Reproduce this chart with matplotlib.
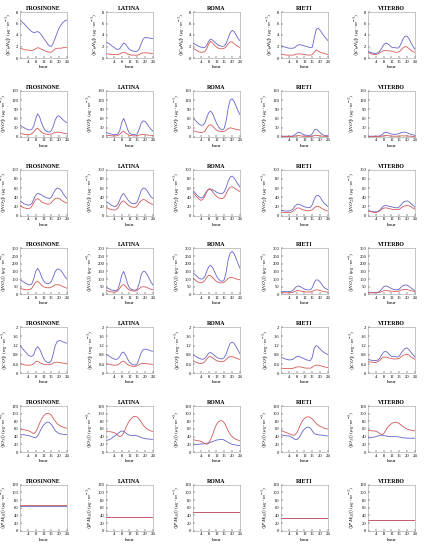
import numpy as np
import matplotlib
matplotlib.use("Agg")
import matplotlib.pyplot as plt

plt.rcParams['font.family'] = ['Liberation Serif', 'DejaVu Serif']
plt.rcParams['mathtext.fontset'] = 'stix'

hours = np.arange(25)
cities = ['FROSINONE', 'LATINA', 'ROMA', 'RIETI', 'VITERBO']

# C6H6 (blue / red)
c6h6_blue = [
    [6.6,6.3,6.0,5.6,5.2,4.9,4.6,4.4,4.5,4.6,4.4,4.0,3.5,3.0,2.5,2.1,2.0,2.6,3.5,4.4,5.2,5.8,6.2,6.5,6.6],
    [2.8,2.6,2.4,2.1,1.9,1.6,1.5,1.6,2.1,2.6,2.4,1.9,1.5,1.3,1.2,1.1,1.2,1.6,2.5,3.3,3.6,3.5,3.5,3.4,3.4],
    [2.6,2.4,2.2,2.0,1.9,1.8,1.8,2.2,2.9,3.3,3.1,2.8,2.5,2.2,2.1,2.0,2.1,2.6,3.5,4.4,4.8,4.6,4.0,3.4,3.0],
    [2.2,2.0,1.9,1.8,1.7,1.7,1.7,1.8,2.1,2.3,2.3,2.2,2.1,2.0,1.9,1.8,1.9,3.5,5.0,5.2,4.8,4.3,3.8,3.4,3.0],
    [1.2,1.0,0.9,0.8,0.8,0.9,1.2,1.7,2.3,2.6,2.5,2.2,1.9,1.8,1.8,1.7,1.9,2.6,3.4,3.8,3.8,3.3,2.6,2.0,1.5],
]
c6h6_red = [
    [1.7,1.6,1.5,1.4,1.4,1.3,1.3,1.4,1.6,1.8,1.7,1.5,1.4,1.2,1.1,1.0,1.0,1.3,1.6,1.7,1.7,1.7,1.8,1.8,1.8],
    [0.7,0.7,0.65,0.6,0.6,0.6,0.6,0.7,0.9,1.0,0.9,0.7,0.6,0.5,0.5,0.5,0.5,0.6,0.8,0.9,0.9,0.9,0.85,0.8,0.8],
    [1.7,1.5,1.3,1.1,1.0,1.0,1.1,1.6,2.4,2.9,2.6,2.2,1.9,1.7,1.6,1.6,1.7,2.0,2.5,2.8,2.8,2.5,2.2,2.0,1.8],
    [0.6,0.6,0.55,0.5,0.5,0.5,0.5,0.55,0.7,0.7,0.7,0.65,0.6,0.55,0.5,0.5,0.6,1.0,1.4,1.2,1.0,0.9,0.8,0.7,0.6],
    [1.0,0.8,0.7,0.6,0.6,0.7,0.9,1.1,1.3,1.3,1.3,1.2,1.2,1.1,1.0,1.0,1.1,1.4,1.8,2.0,1.9,1.6,1.3,1.1,1.0],
]

# NO
no_blue = [
    [38,34,30,26,23,22,24,35,58,75,65,45,30,20,16,15,20,35,55,67,68,62,55,50,45],
    [15,12,10,8,7,7,9,20,45,60,45,25,12,8,7,7,10,25,45,52,50,42,32,24,18],
    [60,55,48,42,38,38,45,62,78,84,76,60,45,33,25,22,28,55,95,120,124,115,100,85,72],
    [3,2,2,2,2,2,3,6,12,15,13,9,6,5,4,5,10,22,25,20,13,8,5,4,3],
    [3,2,2,2,2,2,3,6,12,15,14,11,9,8,8,9,11,14,15,15,13,10,8,6,5],
]
no_red = [
    [12,10,8,7,7,8,10,16,25,28,22,15,11,9,8,8,9,12,14,15,15,14,12,11,10],
    [5,4,4,3,3,3,4,8,15,18,13,8,5,4,3,3,4,6,7,7,7,6,5,5,4],
    [20,18,16,15,14,15,18,28,37,40,35,28,22,19,17,17,18,22,27,29,28,26,24,23,22],
    [1,1,1,1,1,1,1,2,3,4,3,2,2,1,1,1,2,4,5,4,3,2,2,1,1],
    [1,1,1,1,1,1,1,2,3,4,4,3,2,2,2,2,2,3,3,3,3,2,2,1,1],
]

# NO2
no2_blue = [
    [32,29,26,24,23,23,26,35,44,48,47,45,42,40,38,37,40,48,56,60,59,55,48,42,37],
    [30,28,25,22,20,20,24,34,44,48,42,35,30,27,26,26,30,42,55,60,59,54,47,41,37],
    [55,50,45,41,38,40,46,53,57,58,56,54,51,49,48,48,52,62,75,84,86,82,75,68,62],
    [12,11,10,10,10,11,14,20,24,25,23,21,19,18,17,18,24,36,43,44,40,33,27,23,20],
    [12,10,9,8,8,9,12,17,21,22,21,20,19,18,17,17,19,24,29,31,32,30,26,22,18],
]
no2_red = [
    [22,19,17,16,15,16,20,28,35,37,34,30,28,26,25,25,28,33,37,38,37,34,31,29,27],
    [18,16,14,13,12,13,16,24,30,32,28,24,21,19,18,18,21,28,33,35,34,31,28,26,24],
    [50,45,40,36,33,35,42,52,58,57,52,46,42,39,37,37,40,48,57,62,63,60,57,55,52],
    [8,7,7,7,7,7,9,13,16,17,15,13,12,11,10,11,13,17,20,20,18,15,13,11,10],
    [10,9,8,7,7,8,10,14,16,17,16,15,14,13,13,13,14,17,20,21,22,21,19,16,14],
]

# NOx
nox_blue = [
    [95,88,80,72,65,62,68,100,150,170,150,115,88,75,70,72,85,115,150,165,165,155,135,115,100],
    [45,40,34,28,25,25,32,70,125,150,115,70,42,32,28,28,35,75,130,150,148,130,105,80,60],
    [140,130,118,105,100,102,115,150,180,190,175,148,120,100,88,85,98,150,230,270,280,265,235,200,170],
    [20,19,18,18,18,19,25,40,52,55,50,42,35,31,29,30,45,78,95,93,80,62,45,36,30],
    [15,13,12,12,12,14,20,35,50,55,52,45,38,33,30,30,35,48,58,62,60,52,42,32,25],
]
nox_red = [
    [40,36,33,30,30,32,40,60,80,85,75,60,50,45,43,43,47,55,62,63,62,57,50,45,40],
    [25,22,18,16,15,16,22,40,58,65,52,38,28,24,22,22,26,38,48,50,49,45,38,33,30],
    [105,95,85,78,75,78,90,112,125,122,110,96,85,78,75,75,80,92,105,110,110,106,101,98,95],
    [12,11,10,10,10,11,13,19,24,25,22,19,17,16,15,16,20,27,30,29,25,21,18,16,15],
    [12,11,10,10,10,11,13,19,24,25,24,22,21,20,20,20,23,28,32,33,32,28,24,21,18],
]

# CO
co_blue = [
    [1.2,1.1,1.0,0.9,0.8,0.75,0.73,0.8,1.05,1.15,1.05,0.85,0.65,0.52,0.47,0.45,0.55,0.85,1.2,1.38,1.42,1.4,1.36,1.33,1.3],
    [0.82,0.78,0.72,0.66,0.62,0.6,0.62,0.72,0.88,0.92,0.8,0.62,0.48,0.4,0.37,0.35,0.42,0.65,0.9,1.02,1.05,1.03,1.0,0.97,0.95],
    [0.8,0.75,0.7,0.65,0.62,0.6,0.65,0.75,0.87,0.9,0.85,0.77,0.7,0.65,0.63,0.62,0.68,0.85,1.1,1.3,1.35,1.3,1.15,1.0,0.85],
    [0.7,0.66,0.62,0.6,0.58,0.58,0.6,0.66,0.72,0.74,0.7,0.66,0.62,0.58,0.56,0.55,0.7,1.1,1.2,1.15,1.05,0.97,0.9,0.85,0.8],
    [0.6,0.58,0.56,0.55,0.55,0.57,0.65,0.8,0.92,0.95,0.9,0.8,0.73,0.72,0.72,0.7,0.75,0.88,1.0,1.08,1.1,1.02,0.9,0.8,0.7],
]
co_red = [
    [0.42,0.4,0.37,0.35,0.35,0.35,0.36,0.42,0.5,0.52,0.47,0.42,0.39,0.37,0.37,0.37,0.39,0.44,0.47,0.48,0.47,0.45,0.44,0.43,0.42],
    [0.42,0.4,0.38,0.36,0.35,0.35,0.36,0.42,0.5,0.52,0.46,0.38,0.33,0.31,0.3,0.3,0.33,0.38,0.42,0.43,0.43,0.41,0.4,0.39,0.38],
    [0.55,0.5,0.46,0.43,0.42,0.44,0.5,0.62,0.71,0.72,0.67,0.6,0.55,0.52,0.5,0.5,0.53,0.6,0.68,0.72,0.72,0.69,0.65,0.62,0.6],
    [0.22,0.21,0.2,0.2,0.2,0.2,0.21,0.24,0.27,0.28,0.27,0.25,0.23,0.22,0.22,0.22,0.26,0.32,0.35,0.35,0.33,0.3,0.28,0.26,0.25],
    [0.5,0.49,0.48,0.47,0.47,0.5,0.56,0.65,0.7,0.7,0.68,0.66,0.64,0.62,0.62,0.62,0.65,0.72,0.78,0.81,0.82,0.78,0.7,0.65,0.6],
]

# O3
o3_blue = [
    [45,45,45,44,43,42,40,38,37,42,52,62,70,75,78,77,72,64,56,51,48,47,46,46,45],
    [30,31,33,36,40,44,48,52,55,54,50,46,44,43,43,43,42,40,38,36,35,34,34,33,33],
    [18,19,20,20,21,21,22,23,24,25,27,29,31,32,33,33,31,28,25,22,20,19,18,17,17],
    [45,44,43,42,42,40,37,33,32,36,44,53,60,64,65,62,55,48,46,45,44,44,43,42,42],
    [37,37,38,39,40,42,43,44,43,42,41,40,40,40,40,40,39,38,37,37,36,36,36,36,36],
]
o3_red = [
    [60,59,58,57,56,54,51,48,52,62,75,86,94,99,101,100,96,88,80,74,70,67,65,63,62],
    [53,53,53,52,51,48,44,40,42,50,62,73,82,88,92,93,91,86,78,70,64,60,57,55,53],
    [32,31,30,29,28,25,22,20,23,32,45,60,72,79,82,81,76,66,55,46,40,36,33,31,30],
    [56,54,52,50,48,46,44,44,50,60,72,82,88,91,92,90,86,80,74,70,67,65,62,61,60],
    [56,56,55,55,54,52,48,45,48,56,64,70,74,77,78,77,74,70,66,62,60,58,57,56,55],
]

# PM10 (flat daily levels)
pm10_blue = [65, 36, 48, 33, 28]
pm10_red = [66, 37, 49, 34, 29]

ug = r'$(\mu g\cdot m^{-3})$'
rows = [
    (c6h6_blue, c6h6_red, r'$\langle[C_6H_6]\rangle$ ' + ug, 8, [0, 2, 4, 6, 8]),
    (no_blue, no_red, r'$\langle[NO]\rangle$ ' + ug, 150, [0, 30, 60, 90, 120, 150]),
    (no2_blue, no2_red, r'$\langle[NO_2]\rangle$ ' + ug, 100, [0, 20, 40, 60, 80, 100]),
    (nox_blue, nox_red, r'$\langle[NO_x]\rangle$ ' + ug, 300, [0, 50, 100, 150, 200, 250, 300]),
    (co_blue, co_red, r'$\langle[CO]\rangle$ $(mg\cdot m^{-3})$', 2, [0, 0.4, 0.8, 1.2, 1.6, 2]),
    (o3_blue, o3_red, r'$\langle[O_3]\rangle$ ' + ug, 120, [0, 20, 40, 60, 80, 100, 120]),
    (None, None, r'$\langle[PM_{10}]\rangle$ ' + ug, 120, [0, 20, 40, 60, 80, 100, 120]),
]

W, H = 427, 550
fig = plt.figure(figsize=(W / 100, H / 100), dpi=100)

lefts = [20, 106, 193, 281, 368]
ax_w, ax_h = 47, 46
blue = '#6464cc'
red = '#d45858'

for r, (bl, rd, ylab, ymax, yt) in enumerate(rows):
    top = 12 + 78.8 * r
    for c, city in enumerate(cities):
        ax = fig.add_axes([lefts[c] / W, 1 - (top + ax_h) / H, ax_w / W, ax_h / H])
        if bl is None:
            yb = np.full(25, pm10_blue[c])
            yr = np.full(25, pm10_red[c])
        else:
            yb = bl[c]
            yr = rd[c]
        ax.plot(hours, yb, color=blue, lw=0.6)
        ax.plot(hours, yr, color=red, lw=0.6)
        ax.set_xlim(0, 24)
        ax.set_ylim(0, ymax)
        ax.set_xticks([4, 8, 12, 16, 20, 24])
        ax.set_yticks(yt)
        ax.set_yticklabels([('%g' % v) for v in yt])
        ax.tick_params(labelsize=3.3, length=1.2, width=0.3, pad=1.2, direction='in')
        for s in ax.spines.values():
            s.set_linewidth(0.4)
            s.set_color('#999999')
        ax.set_title(city, fontsize=4.2, fontweight='bold', pad=1.5)
        ax.set_xlabel('hour', fontsize=3.8, labelpad=1)
        ax.set_ylabel(ylab, fontsize=3.8, labelpad=1)

fig.savefig('out.png', dpi=100)
